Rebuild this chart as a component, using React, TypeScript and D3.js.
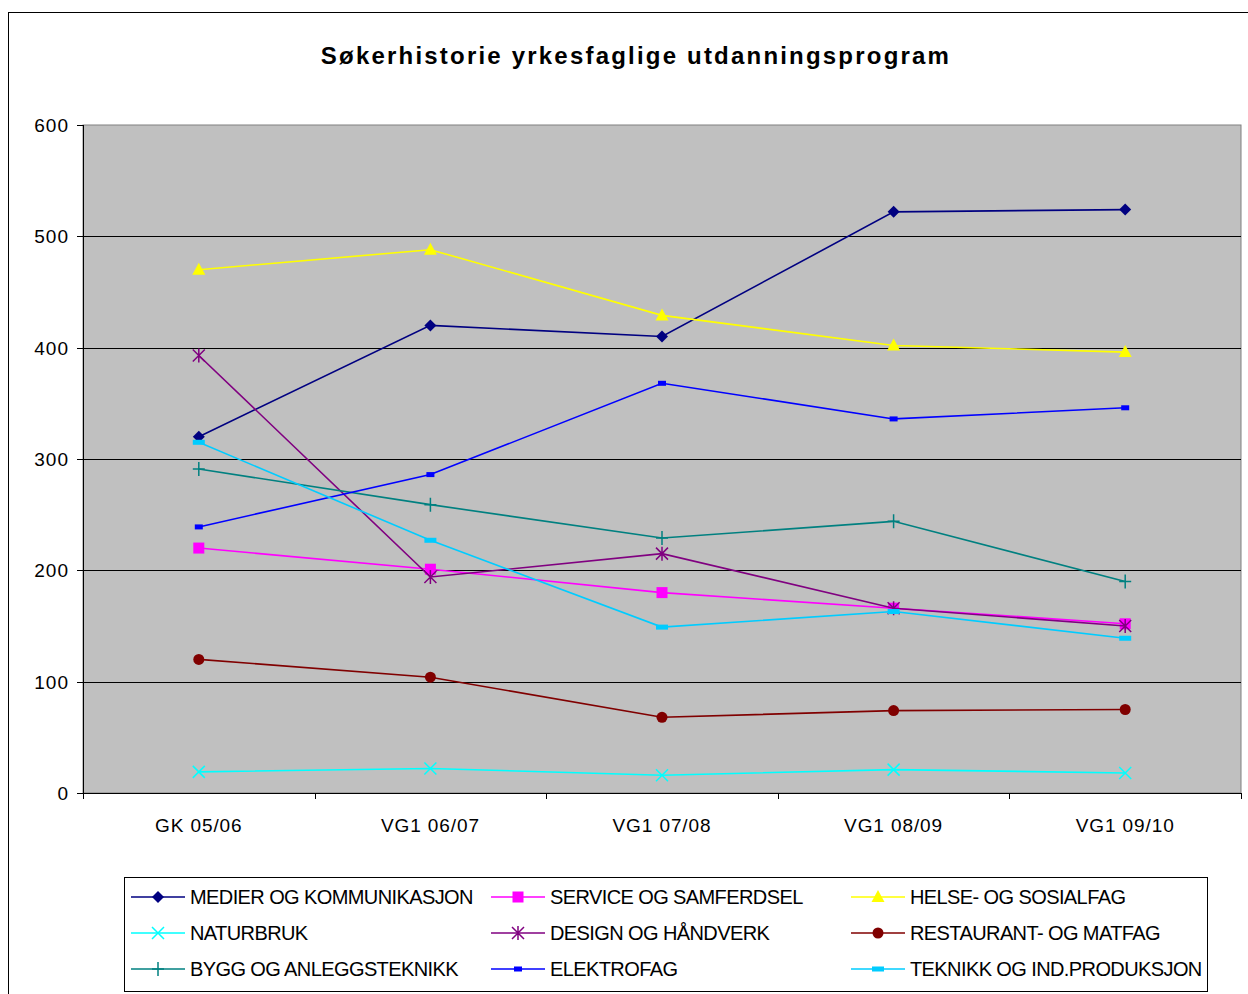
import React from "react";
import * as d3 from "d3";

const categories = ["GK 05/06", "VG1 06/07", "VG1 07/08", "VG1 08/09", "VG1 09/10"];
const yTicks = [0, 100, 200, 300, 400, 500, 600];

const medier = [320, 420, 410, 522, 524];
const service = [220, 201, 180, 166, 152];
const helse = [470, 488, 429, 402, 396];
const naturbruk = [19, 22, 16, 21, 18];
const design = [393, 194, 215, 166, 150];
const restaurant = [120, 104, 68, 74, 75];
const bygg = [291, 259, 229, 244, 190];
const elektro = [239, 286, 368, 336, 346];
const teknikk = [315, 227, 149, 163, 139];

const seriesNames = [
  "MEDIER OG KOMMUNIKASJON", "SERVICE OG SAMFERDSEL", "HELSE- OG SOSIALFAG",
  "NATURBRUK", "DESIGN OG HÅNDVERK", "RESTAURANT- OG MATFAG",
  "BYGG OG ANLEGGSTEKNIKK", "ELEKTROFAG", "TEKNIKK OG IND.PRODUKSJON",
];
const seriesValues = [medier, service, helse, naturbruk, design, restaurant, bygg, elektro, teknikk];
const seriesColors = ["#000080", "#FF00FF", "#FFFF00", "#00FFFF", "#800080", "#800000", "#008080", "#0000FF", "#00CCFF"];
const seriesMarkers = ["diamond", "square", "triangle", "x", "asterisk", "circle", "plus", "dashSmall", "dash"];

const W = 1248, H = 994;
const plotL = 83, plotR = 1241, plotT = 125, plotB = 793;
const font = "'Liberation Sans', Arial, sans-serif";

function Marker({ type, x, y, color }: { type: string; x: number; y: number; color: string }) {
  switch (type) {
    case "diamond":
      return <path d={`M${x},${y - 6}L${x + 6},${y}L${x},${y + 6}L${x - 6},${y}Z`} fill={color} />;
    case "square":
      return <rect x={x - 5.5} y={y - 5.5} width={11} height={11} fill={color} />;
    case "triangle":
      return <path d={`M${x},${y - 7}L${x + 6.5},${y + 5}L${x - 6.5},${y + 5}Z`} fill={color} />;
    case "x":
      return <path d={`M${x - 6},${y - 6}L${x + 6},${y + 6}M${x + 6},${y - 6}L${x - 6},${y + 6}`} stroke={color} strokeWidth={1.5} />;
    case "asterisk":
      return <path d={`M${x - 6},${y - 6}L${x + 6},${y + 6}M${x + 6},${y - 6}L${x - 6},${y + 6}M${x},${y - 7}L${x},${y + 7}`} stroke={color} strokeWidth={1.5} />;
    case "circle":
      return <circle cx={x} cy={y} r={5.5} fill={color} />;
    case "plus":
      return <path d={`M${x - 6},${y}L${x + 6},${y}M${x},${y - 7}L${x},${y + 7}`} stroke={color} strokeWidth={1.5} />;
    case "dashSmall":
      return <rect x={x - 4} y={y - 2.5} width={8} height={5} fill={color} />;
    case "dash":
      return <rect x={x - 6} y={y - 2.5} width={12} height={5} fill={color} />;
    default:
      return null;
  }
}

export default function App() {
  const x = d3.scaleBand<string>().domain(categories).range([plotL, plotR]);
  const y = d3.scaleLinear().domain([0, 600]).range([plotB, plotT]);
  const cx = (c: string) => (x(c) as number) + x.bandwidth() / 2;
  const line = d3.line<number>().x((_, i) => cx(categories[i])).y((v) => y(v));

  const boundaries = categories.map((c) => x(c) as number).concat([plotR]);

  return (
    <svg width={W} height={H} style={{ display: "block", position: "absolute", left: 0, top: 0 }}>
      <rect x={0} y={0} width={W} height={H} fill="#fff" />
      <rect x={8.5} y={12.5} width={W + 10} height={H + 10} fill="#fff" stroke="#000" strokeWidth={1} />
      <text x={636} y={64} textAnchor="middle" fontFamily={font} fontWeight="bold" fontSize={24} letterSpacing={2.2} fill="#000">
        Søkerhistorie yrkesfaglige utdanningsprogram
      </text>

      <rect x={plotL} y={plotT} width={plotR - plotL} height={plotB - plotT} fill="#C0C0C0" stroke="#808080" strokeWidth={1} />
      {yTicks.filter((t) => t > 0 && t < 600).map((t) => (
        <line key={t} x1={plotL} x2={plotR} y1={Math.round(y(t)) + 0.5} y2={Math.round(y(t)) + 0.5} stroke="#000" strokeWidth={1} />
      ))}
      <line x1={plotL + 0.5} x2={plotL + 0.5} y1={plotT} y2={plotB} stroke="#000" />
      <line x1={plotL} x2={plotR} y1={plotB + 0.5} y2={plotB + 0.5} stroke="#000" />
      {yTicks.map((t) => (
        <g key={t}>
          <line x1={plotL - 6} x2={plotL} y1={Math.round(y(t)) + 0.5} y2={Math.round(y(t)) + 0.5} stroke="#000" />
          <text x={plotL - 14} y={y(t) + 7} textAnchor="end" fontFamily={font} fontSize={19} letterSpacing={1} fill="#000">{t}</text>
        </g>
      ))}
      {boundaries.map((b, i) => (
        <line key={i} x1={Math.round(b) + 0.5} x2={Math.round(b) + 0.5} y1={plotB} y2={plotB + 6} stroke="#000" />
      ))}
      {categories.map((c) => (
        <text key={c} x={cx(c)} y={832} textAnchor="middle" fontFamily={font} fontSize={19} letterSpacing={0.9} fill="#000">{c}</text>
      ))}

      {seriesValues.map((vals, si) => (
        <g key={si}>
          <path d={line(vals) as string} fill="none" stroke={seriesColors[si]} strokeWidth={1.6} />
          {vals.map((v, i) => (
            <Marker key={i} type={seriesMarkers[si]} x={cx(categories[i])} y={y(v)} color={seriesColors[si]} />
          ))}
        </g>
      ))}

      <rect x={124.5} y={877.5} width={1083} height={114} fill="#fff" stroke="#000" strokeWidth={1} />
      {seriesNames.map((n, i) => {
        const col = i % 3, row = Math.floor(i / 3);
        const lx = 131 + col * 360;
        const ly = 897 + row * 36;
        return (
          <g key={n}>
            <line x1={lx} x2={lx + 54} y1={ly} y2={ly} stroke={seriesColors[i]} strokeWidth={1.6} />
            <Marker type={seriesMarkers[i]} x={lx + 27} y={ly} color={seriesColors[i]} />
            <text x={lx + 59} y={ly + 7} fontFamily={font} fontSize={20} letterSpacing={-0.6} fill="#000">{n}</text>
          </g>
        );
      })}
    </svg>
  );
}
